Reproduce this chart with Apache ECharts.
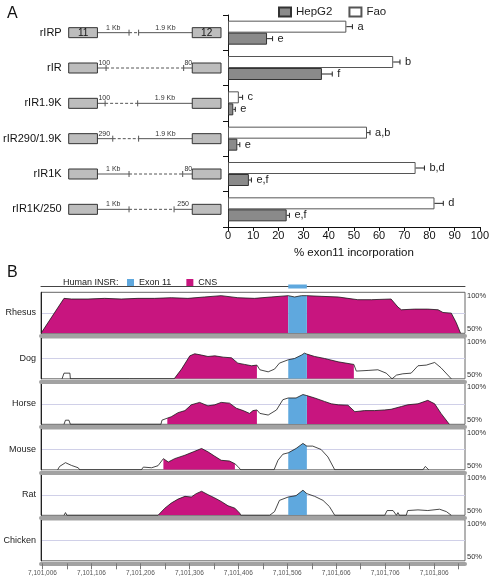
<!DOCTYPE html>
<html><head><meta charset="utf-8">
<script src="https://cdn.jsdelivr.net/npm/echarts@6/dist/echarts.min.js"></script>
<style>html,body{margin:0;padding:0;background:#fff}#c{width:492px;height:577px}</style>
</head><body><div id="c"></div>
<script>
// ---------- Panel A data ----------
const constructs = ['rIRP', 'rIR', 'rIR1.9K', 'rIR290/1.9K', 'rIR1K', 'rIR1K/250'];
const faoValues  = [47, 65.6, 4.3, 55.2, 74.5, 82];
const faoErrors  = [2.4, 2.7, 1.5, 1.2, 3.5, 3.5];
const faoLetters = ['a', 'b', 'c', 'a,b', 'b,d', 'd'];
const hepValues  = [15.5, 37.3, 2.1, 3.7, 8.3, 23.3];
const hepErrors  = [2.2, 4.1, 0.8, 1.0, 1.0, 1.1];
const hepLetters = ['e', 'f', 'e', 'e', 'e,f', 'e,f'];
// construct schematic (drawing units: exon 11 = 0-30, exon 12 = 129-159)
const exonLeft = [0, 30];
const exonRight = [129, 159];
const leftBreak  = [63, 39, 38, 46, 63, 63];
const rightBreak = [73, 120, 72, 73, 119, 110];
const leftLabel  = ['1 Kb', '100', '100', '290', '1 Kb', '1 Kb'];
const rightLabel = ['1.9 Kb', '80', '1.9 Kb', '1.9 Kb', '80', '250'];
const exonNames = ['11', '12'];

// ---------- Panel B data ----------
const trackNames = ['Rhesus', 'Dog', 'Horse', 'Mouse', 'Rat', 'Chicken'];
const exon11 = [7101508, 7101546];
const axisTickPos = [7101006,7101056,7101106,7101156,7101206,7101256,7101306,7101356,7101406,7101456,7101506,7101556,7101606,7101656,7101706,7101756,7101806,7101856];
const axisLabelPos = [7101006,7101106,7101206,7101306,7101406,7101506,7101606,7101706,7101806];

const rhesusPos = [7101003,7101050,7101065,7101099,7101133,7101167,7101201,7101235,7101269,7101303,7101337,7101371,7101405,7101439,7101473,7101508,7101521,7101535,7101546,7101575,7101610,7101630,7101650,7101678,7101718,7101732,7101739,7101766,7101793,7101814,7101824,7101841,7101851,7101860];
const rhesusPct = [50,92.6,91.8,91.8,92.6,91.8,92.6,92.6,93.4,92.6,94.3,95.9,93.4,92.6,94.3,95.9,94.3,95.9,95.9,95.1,94.3,92.6,91.0,91.0,91.8,82.0,78.7,79.5,79.5,78.7,75.4,74.6,63.1,50];
const rhesusCns = [[7101003, 7101508], [7101546, 7101860]];

const dogPos = [7101046,7101050,7101062,7101063,7101184,7101187,7101191,7101275,7101290,7101307,7101317,7101331,7101344,7101358,7101375,7101392,7101405,7101419,7101433,7101444,7101450,7101467,7101480,7101490,7101508,7101521,7101535,7101541,7101546,7101562,7101582,7101610,7101642,7101647,7101671,7101691,7101708,7101720,7101729,7101742,7101759,7101773,7101790,7101807,7101820,7101841];
const dogPct = [50,56.9,56.9,50,50,51.5,50,50,61.8,78.0,80.5,78.9,77.2,78.0,76.4,75.6,69.1,67.5,65.9,66.7,61.0,58.5,61.8,69.1,73.2,74.8,78.9,81.3,80.1,77.2,74.8,70.7,67.5,59.4,60.2,61.0,56.9,50,54.5,56.1,56.9,65.9,66.7,69.9,63.4,50];
const dogCns = [[7101275, 7101444], [7101546, 7101642]];

const horsePos = [7101050,7101053,7101060,7101063,7101248,7101250,7101261,7101269,7101283,7101297,7101310,7101327,7101344,7101358,7101371,7101388,7101402,7101416,7101429,7101436,7101444,7101450,7101467,7101484,7101497,7101508,7101524,7101538,7101546,7101562,7101582,7101596,7101610,7101630,7101644,7101664,7101684,7101705,7101718,7101739,7101752,7101773,7101793,7101807,7101820,7101837];
const horsePct = [50,55,55,50,50,55,57.5,59.2,64.2,66.7,73.8,76.7,72.5,73.8,76.7,75.8,69.6,66.7,63.3,66.7,67.5,63.3,61.3,67.5,80,82.1,82.1,86.3,85,82.1,77.9,75,73.8,73.3,65.4,66.7,66.7,67.5,68.3,71.7,73.8,75,79.2,75,63.3,50];
const horseCns = [[7101261, 7101444], [7101546, 7101837]];

const mousePos = [7101037,7101041,7101053,7101065,7101079,7101082,7101208,7101212,7101229,7101242,7101253,7101263,7101276,7101297,7101314,7101331,7101344,7101358,7101371,7101388,7101399,7101405,7101411,7101479,7101487,7101497,7101508,7101524,7101538,7101546,7101558,7101575,7101589,7101603,7101783,7101788,7101795];
const mousePct = [50,54.1,58.7,55.4,52.5,50,50,53.3,52.5,55,63.6,59.5,63.6,67.8,71.9,76.0,71.9,66.5,61.6,60.7,57.4,54.1,50,50,61.6,69.0,70.7,76.0,82.2,78.9,78.9,74.8,65.7,50,50,54.1,50];
const mouseCns = [[7101253, 7101399]];

const ratPos = [7101050,7101053,7101056,7101242,7101256,7101269,7101283,7101297,7101310,7101320,7101331,7101344,7101358,7101371,7101385,7101399,7101409,7101411,7101470,7101480,7101490,7101508,7101524,7101538,7101546,7101562,7101579,7101592,7101603,7101705,7101710,7101722,7101729,7101732,7101735,7101749,7101752,7101773,7101793,7101817,7101831,7101841];
const ratPct = [50,53.3,50,50,58.7,64.9,69.8,73.1,72.3,76.4,79.3,75.2,71.1,66.9,61.6,58.7,52.5,50,50,54.5,68.2,72.3,74.0,80.6,76.4,73.1,68.2,60.7,50,50,55.8,55.8,50,53.3,50,50,55.8,56.6,55.8,57.4,54.5,50];
const ratCns = [[7101242, 7101411]];

const chickenPos = [];
const chickenPct = [];
const chickenCns = [];

// ---------- build ----------
const FONT = '"Liberation Sans", Arial, Helvetica, sans-serif';
const CNS_COLOR = '#c8157f';
const EXON_COLOR = '#5fa8de';
const BW = 12;
const posMin = 7101003, posMax = 7101869;
const tracks = [
  [rhesusPos, rhesusPct, rhesusCns],
  [dogPos, dogPct, dogCns],
  [horsePos, horsePct, horseCns],
  [mousePos, mousePct, mouseCns],
  [ratPos, ratPct, ratCns],
  [chickenPos, chickenPct, chickenCns]
];
function commas(v) { return String(v).replace(/\B(?=(\d{3})+(?!\d))/g, ','); }
function slice(pos, pct, a, b) {
  const out = [];
  for (let k = 0; k < pos.length; k++) if (pos[k] >= a && pos[k] <= b) out.push([pos[k], pct[k]]);
  return out;
}

const grids = [
  { left: 228, top: 15, width: 254, height: 212 },   // 0 bars
  { left: 62, top: 15, width: 159, height: 212 },    // 1 schematic
  { left: 41, top: 282, width: 424, height: 4 }      // 2 header
];
const xAxes = [
  { gridIndex: 0, type: 'value', min: 0, max: 100, interval: 10,
    axisLine: { show: true, lineStyle: { color: '#111' } },
    axisTick: { show: true, length: 4, lineStyle: { color: '#111' } },
    axisLabel: { fontSize: 11, color: '#111', margin: 3, fontFamily: FONT },
    splitLine: { show: false },
    name: '% exon11 incorporation', nameLocation: 'middle', nameGap: 20,
    nameTextStyle: { fontSize: 11.5, color: '#111', fontFamily: FONT } },
  { gridIndex: 1, type: 'value', min: 0, max: 159, show: false },
  { gridIndex: 2, type: 'value', min: posMin, max: posMax,
    axisLine: { show: true, onZero: false, lineStyle: { color: '#444', width: 1 } },
    axisTick: { show: false }, axisLabel: { show: false }, splitLine: { show: false } }
];
const yAxes = [
  { gridIndex: 0, type: 'category', data: constructs, inverse: true,
    axisLine: { show: true, lineStyle: { color: '#111' } },
    axisTick: { show: true, length: 5, lineStyle: { color: '#111' } },
    axisLabel: { show: false } },
  { gridIndex: 1, type: 'category', data: constructs, inverse: true,
    axisLine: { show: false }, axisTick: { show: false },
    axisLabel: { fontSize: 11, color: '#111', margin: 7, fontFamily: FONT } },
  { gridIndex: 2, type: 'value', min: 0, max: 1, show: false }
];

const series = [
  { name: 'Fao', type: 'bar', xAxisIndex: 0, yAxisIndex: 0, data: faoValues, barWidth: BW, barGap: '0%',
    itemStyle: { color: '#ffffff', borderColor: '#555', borderWidth: 1 } },
  { name: 'HepG2', type: 'bar', xAxisIndex: 0, yAxisIndex: 0, data: hepValues, barWidth: BW, barGap: '0%',
    itemStyle: { color: '#8a8a8a', borderColor: '#333', borderWidth: 1 } },
  { type: 'custom', xAxisIndex: 0, yAxisIndex: 0, data: constructs.map((c, i) => [0, i]), z: 5,
    renderItem: function (params, api) {
      const i = params.dataIndex;
      const c = api.coord([0, i]);
      const children = [];
      [[faoValues, faoErrors, faoLetters, -BW / 2], [hepValues, hepErrors, hepLetters, BW / 2]].forEach(function (s) {
        const v = s[0], e = s[1], l = s[2], off = s[3];
        const y = c[1] + off;
        const x0 = api.coord([v[i], i])[0];
        const x1 = api.coord([v[i] + e[i], i])[0];
        children.push({ type: 'line', shape: { x1: x0, y1: y, x2: x1, y2: y }, style: { stroke: '#222', lineWidth: 1 } });
        children.push({ type: 'line', shape: { x1: x1, y1: y - 2.5, x2: x1, y2: y + 2.5 }, style: { stroke: '#222', lineWidth: 1 } });
        children.push({ type: 'text', x: x1 + 5, y: y, style: { text: l[i], fontSize: 11, fill: '#222', verticalAlign: 'middle', align: 'left', fontFamily: FONT } });
      });
      return { type: 'group', children: children };
    } },
  { type: 'custom', xAxisIndex: 1, yAxisIndex: 1, data: constructs.map((c, i) => [0, i]), z: 5,
    renderItem: function (params, api) {
      const i = params.dataIndex;
      const cy = api.coord([0, i])[1];
      const X = u => api.coord([u, i])[0];
      const ln = { stroke: '#555', lineWidth: 1 };
      const ch = [];
      ch.push({ type: 'line', shape: { x1: X(exonLeft[1]), y1: cy, x2: X(leftBreak[i]), y2: cy }, style: ln });
      ch.push({ type: 'line', shape: { x1: X(leftBreak[i]), y1: cy, x2: X(rightBreak[i]), y2: cy }, style: { stroke: '#555', lineWidth: 1, lineDash: [3, 2] } });
      ch.push({ type: 'line', shape: { x1: X(rightBreak[i]), y1: cy, x2: X(exonRight[0]), y2: cy }, style: ln });
      ch.push({ type: 'line', shape: { x1: X(leftBreak[i]), y1: cy - 3, x2: X(leftBreak[i]), y2: cy + 3 }, style: ln });
      ch.push({ type: 'line', shape: { x1: X(rightBreak[i]), y1: cy - 3, x2: X(rightBreak[i]), y2: cy + 3 }, style: ln });
      ch.push({ type: 'rect', shape: { x: X(exonLeft[0]), y: cy - 5, width: X(exonLeft[1]) - X(exonLeft[0]), height: 10 }, style: { fill: '#bdbdbd', stroke: '#333', lineWidth: 1 } });
      ch.push({ type: 'rect', shape: { x: X(exonRight[0]), y: cy - 5, width: X(exonRight[1]) - X(exonRight[0]), height: 10 }, style: { fill: '#bdbdbd', stroke: '#333', lineWidth: 1 } });
      const lf = { fontSize: 7, fill: '#333', fontFamily: FONT, verticalAlign: 'bottom' };
      const lw = leftBreak[i] - exonLeft[1];
      ch.push({ type: 'text', x: lw < 20 ? X(exonLeft[1]) + 1 : (X(exonLeft[1]) + X(leftBreak[i])) / 2, y: cy - 1.5,
        style: Object.assign({ text: leftLabel[i], align: lw < 20 ? 'left' : 'center' }, lf) });
      const rw = exonRight[0] - rightBreak[i];
      ch.push({ type: 'text', x: rw < 12 ? X(exonRight[0]) : (X(rightBreak[i]) + X(exonRight[0])) / 2, y: cy - 1.5,
        style: Object.assign({ text: rightLabel[i], align: rw < 12 ? 'right' : 'center' }, lf) });
      if (i === 0) {
        ch.push({ type: 'text', x: (X(exonLeft[0]) + X(exonLeft[1])) / 2, y: cy + 0.5, style: { text: exonNames[0], fontSize: 10, fill: '#111', align: 'center', verticalAlign: 'middle', fontFamily: FONT } });
        ch.push({ type: 'text', x: (X(exonRight[0]) + X(exonRight[1])) / 2, y: cy + 0.5, style: { text: exonNames[1], fontSize: 10, fill: '#111', align: 'center', verticalAlign: 'middle', fontFamily: FONT } });
      }
      return { type: 'group', children: ch };
    } },
  { type: 'custom', xAxisIndex: 2, yAxisIndex: 2, data: [[exon11[0], exon11[1]]], z: 5,
    renderItem: function (params, api) {
      const a = api.coord([api.value(0), 0]);
      const b = api.coord([api.value(1), 0]);
      return { type: 'rect', shape: { x: a[0], y: a[1] - 1.5, width: b[0] - a[0], height: 4 }, style: { fill: EXON_COLOR } };
    } }
];

for (let t = 0; t < 6; t++) {
  const g = grids.length;
  grids.push({ left: 41, width: 424, top: 292.3 + 45.5 * t, height: 41, show: true, borderColor: '#666', borderWidth: 1, backgroundColor: 'transparent' });
  const last = t === 5;
  const xi = xAxes.length;
  xAxes.push({ gridIndex: g, type: 'value', min: posMin, max: posMax, position: 'bottom', offset: 2.5,
    axisLine: { show: true, onZero: false, lineStyle: { color: '#a2a2a2', width: 4 } },
    axisTick: last ? { show: true, customValues: axisTickPos, length: 6, lineStyle: { color: '#777' } } : { show: false },
    axisLabel: last ? { show: true, customValues: axisLabelPos, formatter: v => commas(v), fontSize: 6.5, color: '#555', margin: 6, fontFamily: FONT } : { show: false },
    splitLine: { show: false } });
  const yi = yAxes.length;
  yAxes.push({ gridIndex: g, type: 'value', min: 50, max: 100, interval: 25, position: 'left',
    axisLine: { show: true, onZero: false, lineStyle: { color: '#222', width: 1 } }, axisTick: { show: false },
    splitLine: { show: true, showMinLine: false, showMaxLine: false, lineStyle: { color: '#d0d0e8', width: 1 } },
    axisLabel: { show: true, customValues: [75], formatter: function () { return trackNames[t]; }, fontSize: 9, color: '#222', margin: 5, fontFamily: FONT } });
  yAxes.push({ gridIndex: g, type: 'value', min: 50, max: 100, position: 'right',
    axisLine: { show: false }, axisTick: { show: false }, splitLine: { show: false },
    axisLabel: { customValues: [100], formatter: '{value}%', verticalAlign: 'top', fontSize: 7.5, color: '#333', margin: 2, fontFamily: FONT } });
  yAxes.push({ gridIndex: g, type: 'value', min: 50, max: 100, position: 'right',
    axisLine: { show: false }, axisTick: { show: false }, splitLine: { show: false },
    axisLabel: { customValues: [50], formatter: '{value}%', verticalAlign: 'bottom', fontSize: 7.5, color: '#333', margin: 2, fontFamily: FONT } });

  const pos = tracks[t][0], pct = tracks[t][1], cns = tracks[t][2];
  cns.forEach(function (r) {
    series.push({ name: 'CNS', type: 'line', xAxisIndex: xi, yAxisIndex: yi, data: slice(pos, pct, r[0], r[1]),
      symbol: 'none', lineStyle: { width: 0, opacity: 0 }, itemStyle: { color: CNS_COLOR },
      areaStyle: { color: CNS_COLOR, opacity: 1, origin: 'start' }, z: 2, silent: true });
  });
  series.push({ name: 'Exon 11', type: 'line', xAxisIndex: xi, yAxisIndex: yi, data: slice(pos, pct, exon11[0], exon11[1]),
    symbol: 'none', lineStyle: { width: 0, opacity: 0 }, itemStyle: { color: EXON_COLOR },
    areaStyle: { color: EXON_COLOR, opacity: 1, origin: 'start' }, z: 2, silent: true });
  series.push({ type: 'line', xAxisIndex: xi, yAxisIndex: yi, data: pos.map((p, k) => [p, pct[k]]),
    symbol: 'none', lineStyle: { color: '#1a1a1a', width: 0.8 }, z: 4, silent: true });
}

const option = {
  animation: false,
  textStyle: { fontFamily: FONT },
  title: [
    { text: 'A', left: 2, top: 1, textStyle: { fontSize: 16, fontWeight: 'normal', color: '#111', fontFamily: FONT } },
    { text: 'B', left: 2, top: 260, textStyle: { fontSize: 16, fontWeight: 'normal', color: '#111', fontFamily: FONT } },
    { text: 'Human INSR:', left: 58, top: 273, textStyle: { fontSize: 9, fontWeight: 'normal', color: '#222', fontFamily: FONT } }
  ],
  legend: [
    { data: [{ name: 'HepG2', icon: 'rect' }, { name: 'Fao', icon: 'rect' }], left: 273, top: 1,
      itemWidth: 12, itemHeight: 9, itemGap: 16, textStyle: { fontSize: 11.5, color: '#222', fontFamily: FONT } },
    { data: [{ name: 'Exon 11', icon: 'rect' }, { name: 'CNS', icon: 'rect' }], left: 122, top: 273,
      itemWidth: 7, itemHeight: 7, itemGap: 15, itemStyle: { borderWidth: 0 }, textStyle: { fontSize: 9, color: '#222', fontFamily: FONT } }
  ],
  grid: grids,
  xAxis: xAxes,
  yAxis: yAxes,
  series: series
};
const chart = echarts.init(document.getElementById('c'), null, { renderer: 'canvas' });
chart.setOption(option);
</script>
</body></html>
